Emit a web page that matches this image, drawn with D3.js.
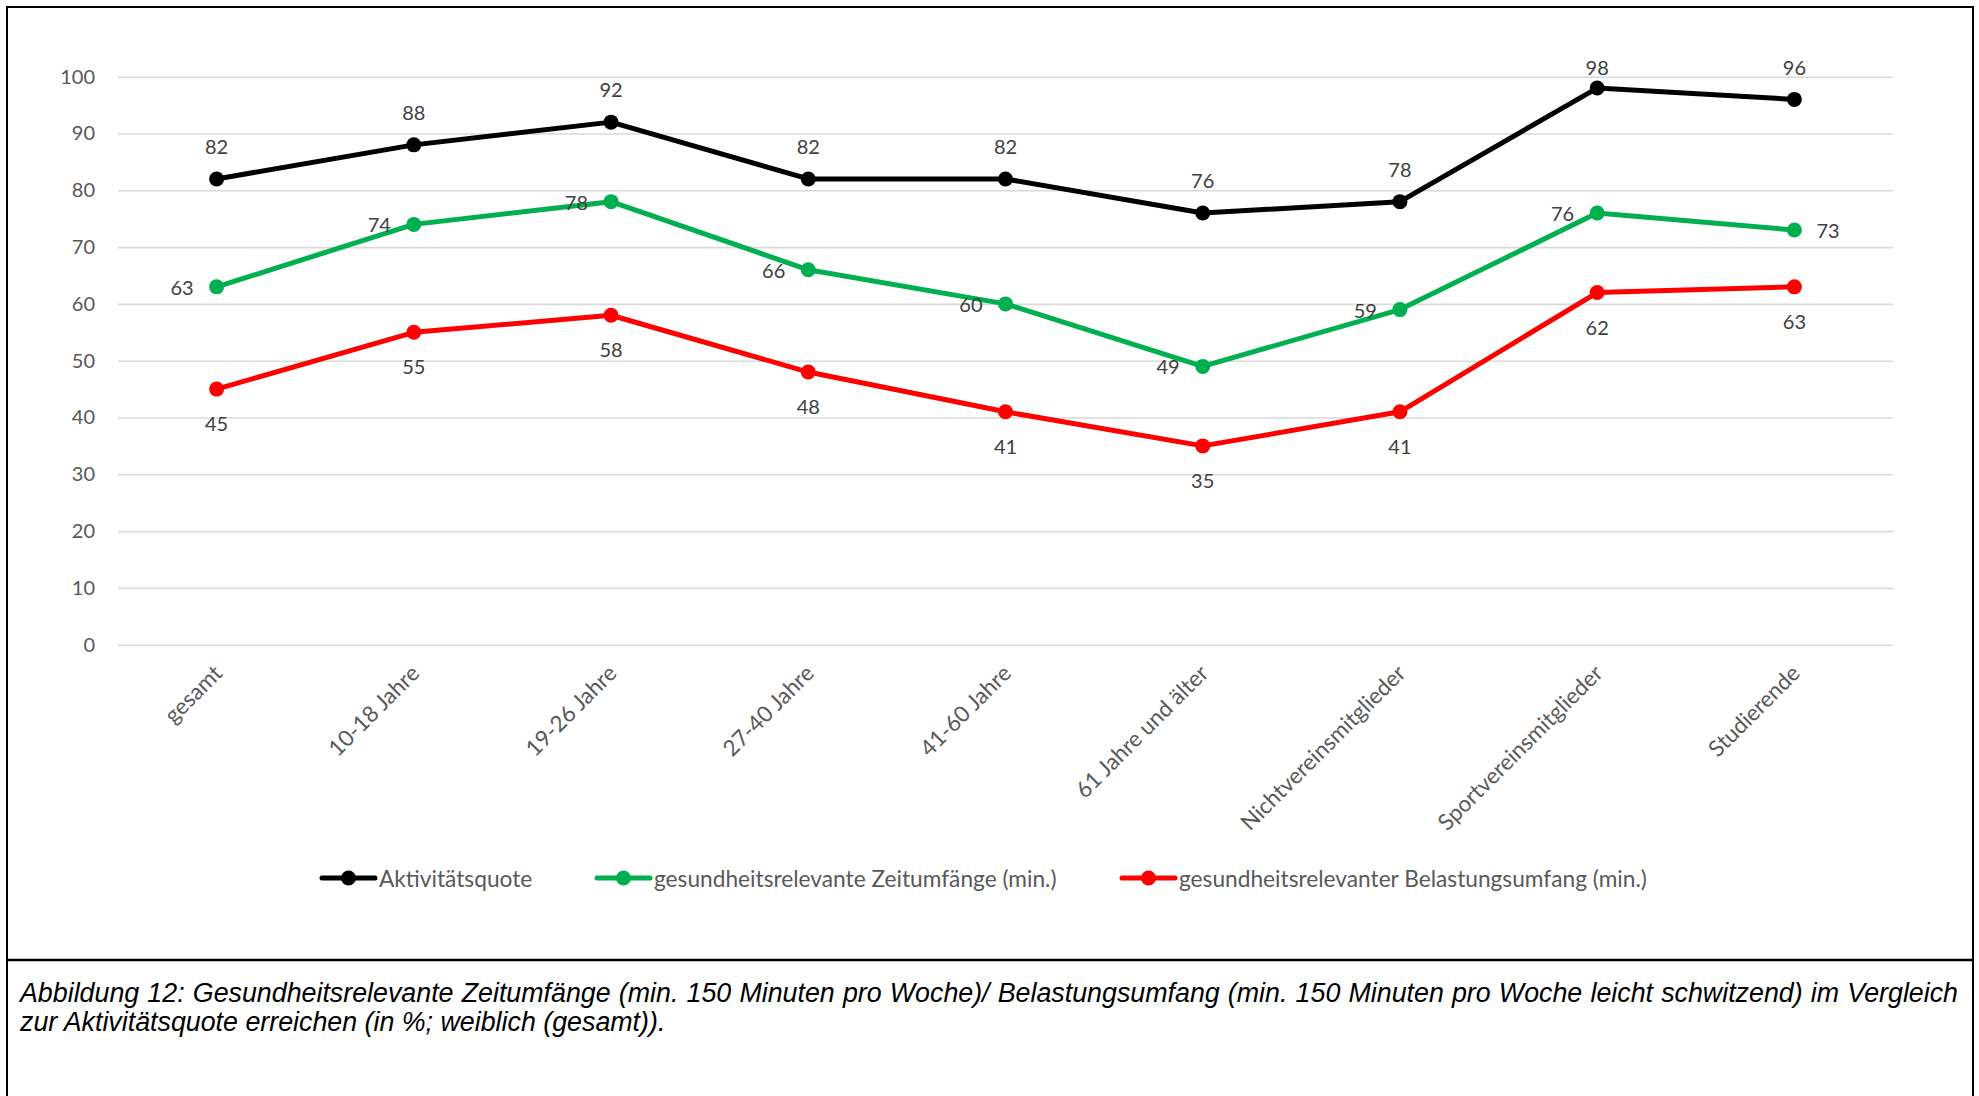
<!DOCTYPE html>
<html><head><meta charset="utf-8">
<script src="https://cdn.jsdelivr.net/npm/d3@7"></script>
<style>html,body{margin:0;padding:0;background:#fff;}svg{display:block;}</style>
</head><body>
<svg id="c" width="1979" height="1096"></svg>
<script>
const categories = ["gesamt","10-18 Jahre","19-26 Jahre","27-40 Jahre","41-60 Jahre","61 Jahre und älter","Nichtvereinsmitglieder","Sportvereinsmitglieder","Studierende"];
const aktivitaet = [82,88,92,82,82,76,78,98,96];
const zeitumfang = [63,74,78,66,60,49,59,76,73];
const belastung = [45,55,58,48,41,35,41,62,63];
const seriesNames = ["Aktivitätsquote","gesundheitsrelevante Zeitumfänge (min.)","gesundheitsrelevanter Belastungsumfang (min.)"];
const yTicks = [0,10,20,30,40,50,60,70,80,90,100];
const captionLines = ["Abbildung 12: Gesundheitsrelevante Zeitumfänge (min. 150 Minuten pro Woche)/ Belastungsumfang (min. 150 Minuten pro Woche leicht schwitzend) im Vergleich","zur Aktivitätsquote erreichen (in %; weiblich (gesamt))."];

const series = [
  {name: seriesNames[0], values: aktivitaet, color:"#000000", labelPos: aktivitaet.map(()=>"above")},
  {name: seriesNames[1], values: zeitumfang, color:"#00B050", labelPos: zeitumfang.map((d,i)=> i===zeitumfang.length-1 ? "right":"left")},
  {name: seriesNames[2], values: belastung, color:"#FF0000", labelPos: belastung.map(()=>"below")}
];

const svg = d3.select("#c");
const font = "Lato, 'Open Sans', sans-serif";

// frame
svg.append("rect").attr("x",7).attr("y",7).attr("width",1966).attr("height",1100)
  .attr("fill","none").attr("stroke","#000").attr("stroke-width",2);
svg.append("line").attr("x1",7).attr("x2",1973).attr("y1",960).attr("y2",960)
  .attr("stroke","#000").attr("stroke-width",2.5);

const x = d3.scaleBand().domain(categories).range([118,1893]);
const y = d3.scaleLinear().domain([0,100]).range([644.7,76.7]);
const cx = c => x(c) + x.bandwidth()/2;
const labelTop = 66.5; // labels stay inside the chart area

// y axis
const yAxis = d3.axisLeft(y).tickValues(yTicks).tickSize(-(1893-118)).tickPadding(23);
const ya = svg.append("g").attr("transform","translate(118,0)").call(yAxis);
ya.select(".domain").remove();
ya.selectAll(".tick line").attr("stroke","#d9d9d9").attr("stroke-width",1.6);
ya.selectAll(".tick text").attr("fill","#595959").attr("font-family",font).attr("font-size",20);

// x axis
const xAxis = d3.axisBottom(x).tickSize(0).tickPadding(0);
const xa = svg.append("g").attr("transform","translate(0,644.7)").call(xAxis);
xa.select(".domain").remove();
xa.selectAll(".tick text")
  .attr("fill","#595959").attr("font-family",font).attr("font-size",22.4)
  .attr("text-anchor","end").attr("dy",0)
  .attr("transform","translate(3,26) rotate(-45)")
  .attr("y",0).attr("x",0).attr("dominant-baseline","middle");

// lines
const line = d3.line().x((d,i)=>cx(categories[i])).y(d=>y(d));
series.forEach(s=>{
  const g = svg.append("g");
  g.append("path").datum(s.values).attr("d",line).attr("fill","none")
    .attr("stroke",s.color).attr("stroke-width",5).attr("stroke-linejoin","round");
  g.selectAll("circle").data(s.values).join("circle")
    .attr("cx",(d,i)=>cx(categories[i])).attr("cy",d=>y(d)).attr("r",7.5).attr("fill",s.color);
});
// labels
series.forEach(s=>{
  svg.append("g").selectAll("text").data(s.values).join("text")
    .attr("font-family",font).attr("font-size",20).attr("fill","#404040")
    .attr("dominant-baseline","central")
    .attr("x",(d,i)=>{const p=s.labelPos[i], c=cx(categories[i]); return p==="left"?c-23:p==="right"?c+22:c;})
    .attr("y",(d,i)=>{const p=s.labelPos[i]; return p==="above"?Math.max(labelTop, y(d)-33):p==="below"?y(d)+34:y(d);})
    .attr("text-anchor",(d,i)=>{const p=s.labelPos[i]; return p==="left"?"end":p==="right"?"start":"middle";})
    .text(d=>d);
});

// legend
const legX = [322,597,1122];
const legY = 878;
series.forEach((s,i)=>{
  const g = svg.append("g").attr("transform",`translate(${legX[i]},${legY})`);
  g.append("line").attr("x1",0).attr("x2",53).attr("stroke",s.color).attr("stroke-width",5).attr("stroke-linecap","round");
  g.append("circle").attr("cx",26.5).attr("r",7.5).attr("fill",s.color);
  g.append("text").attr("x",57).attr("dominant-baseline","central")
    .attr("font-family",font).attr("font-size",22.7).attr("fill","#595959").text(s.name);
});

// caption
const capFont = "'Liberation Sans', Arial, sans-serif";
captionLines.forEach((t,i)=>{
  const tx = svg.append("text").attr("x",20).attr("y",1002 + i*29)
    .attr("font-family",capFont).attr("font-style","italic").attr("font-size",26.8).attr("fill","#000").text(t);
  if(i===0){
    const w = tx.node().getComputedTextLength();
    const spaces = (t.match(/ /g)||[]).length;
    const target = 1958-20;
    tx.attr("word-spacing", (target - w)/spaces);
  }
});
</script>
</body></html>
